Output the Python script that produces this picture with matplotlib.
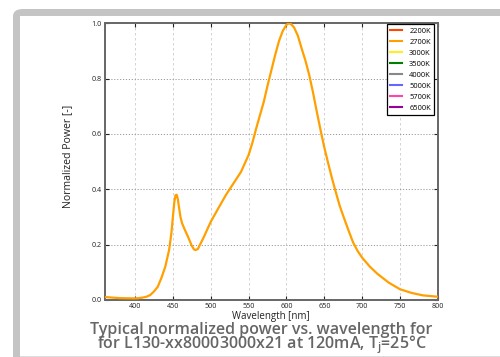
import matplotlib
matplotlib.use("Agg")
import matplotlib.pyplot as plt
from matplotlib.patches import FancyBboxPatch, Rectangle
from matplotlib.lines import Line2D

plt.rcParams['font.family'] = ['Open Sans', 'DejaVu Sans']
plt.rcParams['mathtext.fontset'] = 'custom'
plt.rcParams['mathtext.rm'] = 'Open Sans'
plt.rcParams['mathtext.it'] = 'Open Sans'

# ---- data ----
wavelength_2700 = [360, 380, 400, 405, 410, 415, 420, 425, 430, 435, 440, 445, 448, 450,
                   452, 453.5, 455, 456.5, 458, 460, 462, 465, 470, 475, 478, 480, 483,
                   485, 490, 500, 510, 520, 530, 540, 550, 555, 560, 565, 570, 575, 580,
                   585, 590, 595, 600, 603, 606, 610, 615, 620, 625, 630, 635, 640, 646,
                   650, 655, 660, 664, 670, 676, 682, 688, 694, 700, 710, 720, 735, 750,
                   765, 780, 800]
power_2700 = [0.010, 0.006, 0.005, 0.006, 0.008, 0.011, 0.017, 0.030, 0.047, 0.080, 0.120,
              0.180, 0.240, 0.300, 0.355, 0.378, 0.380, 0.365, 0.336, 0.300, 0.278, 0.258,
              0.228, 0.195, 0.182, 0.180, 0.184, 0.195, 0.222, 0.282, 0.331, 0.379, 0.421,
              0.463, 0.524, 0.568, 0.620, 0.668, 0.716, 0.775, 0.830, 0.885, 0.935, 0.972,
              0.995, 1.000, 0.997, 0.985, 0.955, 0.909, 0.865, 0.813, 0.750, 0.680, 0.600,
              0.550, 0.494, 0.440, 0.400, 0.342, 0.295, 0.250, 0.207, 0.176, 0.152, 0.120,
              0.094, 0.062, 0.038, 0.025, 0.016, 0.011]

# other CCT series: only their tips are visible at the top of the chart
wavelength_2200 = [608, 610, 612]
power_2200 = [1.0, 1.0, 1.0]
wavelength_3500 = [596, 598, 600]
power_3500 = [1.0, 1.0, 1.0]
wavelength_6500 = [449, 451, 453]
power_6500 = [1.0, 1.0, 1.0]

legend_labels = ['2200K', '2700K', '3000K', '3500K', '4000K', '5000K', '5700K', '6500K']
legend_colors = ['#ff4500', '#ffa000', '#ffee22', '#008000', '#888888', '#6666ff', '#ff44aa', '#990099']

x_ticks = [400, 450, 500, 550, 600, 650, 700, 750, 800]
y_ticks = [0.0, 0.2, 0.4, 0.6, 0.8, 1.0]

title_text = ('Typical normalized power vs. wavelength for\n'
              'for L130-xx80003000x21 at 120mA, T$_\\mathregular{j}$=25°C')

# ---- figure ----
W, H = 500, 357
fig = plt.figure(figsize=(5.0, 3.57), dpi=100)

def fx(px):
    return px / W

def fy(py):
    return 1 - py / H

# frame: grey rounded border
outer = FancyBboxPatch((fx(13), fy(380)), fx(520), (380 - 9) / H,
                       boxstyle="round,pad=0,rounding_size=0.02",
                       transform=fig.transFigure, facecolor='#c4c4c4', edgecolor='none', zorder=-3)
fig.patches.append(outer)
inner = Rectangle((fx(20), fy(355.6)), fx(520), (355.6 - 16) / H,
                  transform=fig.transFigure, facecolor='white', edgecolor='none', zorder=-2)
fig.patches.append(inner)
bottom_line = Rectangle((fx(20), fy(357)), fx(520), 1.2 / H,
                        transform=fig.transFigure, facecolor='#dddddd', edgecolor='none', zorder=-2)
fig.patches.append(bottom_line)

ax = fig.add_axes([fx(104.7), fy(299.8), fx(438 - 104.7), (299.8 - 23.3) / H])
ax.set_facecolor('none')
ax.set_zorder(2)

# series
ax.plot(wavelength_2200, power_2200, color=legend_colors[0], lw=1.5, zorder=2)
ax.plot(wavelength_3500, power_3500, color=legend_colors[3], lw=1.5, zorder=2)
ax.plot(wavelength_6500, power_6500, color=legend_colors[7], lw=1.5, zorder=2)
ax.plot(wavelength_2700, power_2700, color=legend_colors[1], lw=1.6, zorder=3,
        solid_joinstyle='round', solid_capstyle='round')

ax.set_xlim(360, 800)
ax.set_ylim(0, 1.0)
ax.set_xticks(x_ticks)
ax.set_yticks(y_ticks)
ax.set_xticklabels([str(t) for t in x_ticks])
ax.set_yticklabels([f"{t:.1f}" for t in y_ticks])

ax.tick_params(direction='in', length=3, width=0.8, top=True, right=True,
               labelsize=5.2, colors='#222222', pad=2)
for s in ax.spines.values():
    s.set_color('#666666')
    s.set_linewidth(1.4)

# grids
for t in x_ticks:
    ax.axvline(t, color='#cccccc', lw=0.6, ls=(0, (3, 3)), zorder=1)
for t in y_ticks[1:-1]:
    ax.axhline(t, color='#999999', lw=0.7, ls=(0, (1.2, 1.8)), zorder=1)

ax.set_xlabel('Wavelength [nm]', fontsize=7, labelpad=1, color='#222222')
ax.set_ylabel('Normalized Power [-]', fontsize=7.6, color='#222222')
ax.yaxis.set_label_coords((73 - 104.7) / 333.3, (299.8 - 156) / 276.5)

# legend
handles = [Line2D([0], [0], color=c, lw=1.5) for c in legend_colors]
leg = ax.legend(handles, legend_labels, loc='upper right', fontsize=5.4,
                frameon=True, fancybox=False, edgecolor='black', framealpha=1,
                handlelength=1.5, handletextpad=1.0, borderpad=0.45, labelspacing=0.5,
                bbox_to_anchor=(0.989, 0.997), borderaxespad=0)
leg.get_frame().set_linewidth(0.9)
leg.set_zorder(5)

# title (single two-line text)
fig.text(fx(261.5), fy(348.5), title_text, ha='center', va='baseline',
         multialignment='center', linespacing=0.7,
         fontsize=11.5, color='#666666', fontweight='semibold')

fig.savefig('out.png', dpi=100)
